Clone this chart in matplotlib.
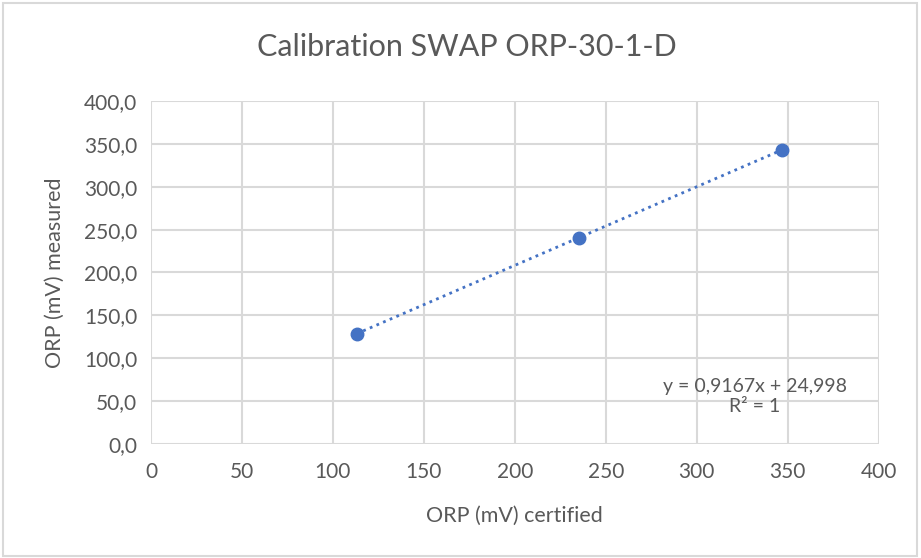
import numpy as np
import matplotlib
matplotlib.use("Agg")
import matplotlib.pyplot as plt
from matplotlib.patches import Rectangle
from matplotlib.ticker import FuncFormatter

# ── data ─────────────────────────────────────────────
orp_certified = [113, 235, 347]
orp_measured = [128.6, 240.4, 343.1]
title = "Calibration SWAP ORP-30-1-D"
x_label = "ORP (mV) certified"
y_label = "ORP (mV) measured"
eq_text = "y = 0,9167x + 24,998\nR² = 1"

plt.rcParams['font.family'] = ['Lato', 'DejaVu Sans']
txt_color = '#595959'
grid_color = '#D9D9D9'
blue = '#4472C4'

fig = plt.figure(figsize=(9.21, 5.58), dpi=100)
fig.patches.append(Rectangle((0.003, 0.004), 0.993, 0.99, transform=fig.transFigure,
                             fill=False, edgecolor=grid_color, linewidth=1.5))
ax = fig.add_axes([0.164, 0.2043, 0.790, 0.6147])

ax.plot(orp_certified, orp_measured, 'o', color=blue, markersize=9, zorder=3)

# linear trendline over the data range
coef = np.polyfit(orp_certified, orp_measured, 1)
xs = np.array([min(orp_certified), max(orp_certified)])
ax.plot(xs, np.polyval(coef, xs), linestyle=(0, (1, 1.6)), color=blue,
        linewidth=2, zorder=2)

ax.set_xlim(0, 400)
ax.set_ylim(0, 400)
ax.set_xticks(np.arange(0, 401, 50))
ax.set_yticks(np.arange(0, 401, 50))
ax.yaxis.set_major_formatter(FuncFormatter(lambda v, p: f"{v:.1f}".replace('.', ',')))
ax.xaxis.set_major_formatter(FuncFormatter(lambda v, p: f"{v:.0f}"))
ax.tick_params(length=0, labelsize=15, colors=txt_color)
ax.tick_params(axis='x', pad=13)
ax.tick_params(axis='y', pad=10)
ax.grid(True, color=grid_color, linewidth=1.5)
ax.set_axisbelow(True)
for s in ax.spines.values():
    s.set_visible(False)

fig.text(467 / 921, 1 - 47 / 558, title, fontsize=22, color=txt_color,
         ha='center', va='center')
ax.set_xlabel(x_label, fontsize=15.5, color=txt_color, labelpad=17)
ax.set_ylabel(y_label, fontsize=15.5, color=txt_color, labelpad=14)

ax.text(332, 55, eq_text, ha='center', va='center', fontsize=14,
        color=txt_color, linespacing=1.2)

plt.savefig('out.png', dpi=100)
